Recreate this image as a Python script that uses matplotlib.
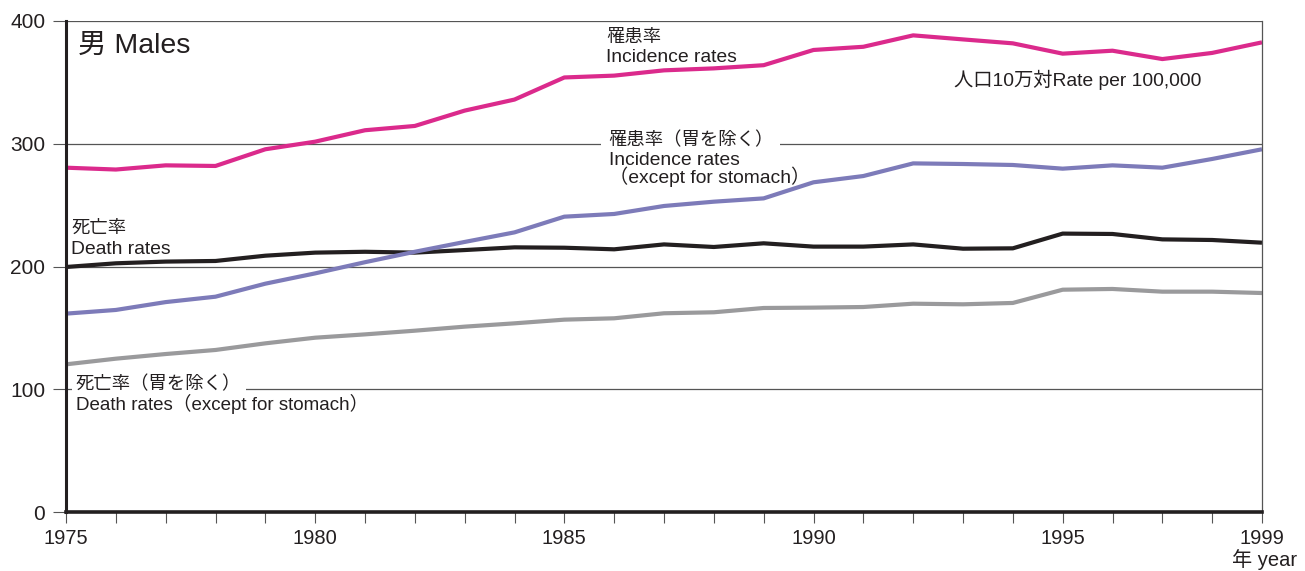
import matplotlib
matplotlib.use("Agg")
import matplotlib.pyplot as plt

plt.rcParams['font.family'] = ['Liberation Sans', 'Noto Sans CJK JP', 'DejaVu Sans']

years = list(range(1975, 2000))
incidence = [280.5, 279, 282.4, 281.9, 295.5, 301.7, 311, 314.5, 327, 336,
             354, 355.5, 359.8, 361.4, 364, 376.4, 379, 388.3, 385, 381.8,
             373.4, 375.8, 369, 374, 382.6]
incidence_ex = [161.6, 164.6, 171, 175.4, 186, 194.4, 203.5, 212, 220, 227.8,
                240.6, 242.8, 249.3, 252.8, 255.5, 268.6, 273.7, 284, 283.5, 282.7,
                279.7, 282.4, 280.5, 287.6, 295.5]
death = [199.6, 202.6, 204, 204.5, 208.8, 211.3, 212, 211.3, 213.4, 215.6,
         215.3, 214, 218, 215.9, 218.9, 216.2, 216.2, 218, 214.5, 214.8,
         226.8, 226.5, 222.1, 221.6, 219.4]
death_ex = [120.3, 124.9, 128.7, 132, 137.4, 142, 144.7, 147.7, 151, 153.7,
            156.7, 157.8, 161.9, 162.7, 166.2, 166.5, 167, 169.7, 169.2, 170.3,
            181.1, 181.7, 179.5, 179.5, 178.4]
yticks = [0, 100, 200, 300, 400]
xlabels = [1975, 1980, 1985, 1990, 1995, 1999]

fig = plt.figure(figsize=(13.05, 5.71), dpi=100)
ax = fig.add_axes([66/1305, 59/571, (1262-66)/1305, (512-21)/571])
ax.set_xlim(1975, 1999)
ax.set_ylim(0, 400)

for v in [100, 200, 300, 400]:
    ax.axhline(v, color='#555555', lw=0.9, zorder=1)

ax.plot(years, death_ex, color='#9a9a9c', lw=3, zorder=3, solid_capstyle='butt')
ax.plot(years, death, color='#231f20', lw=3, zorder=3, solid_capstyle='butt')
ax.plot(years, incidence_ex, color='#7d7bb9', lw=3, zorder=3, solid_capstyle='butt')
ax.plot(years, incidence, color='#db2a8c', lw=3, zorder=3, solid_capstyle='butt')

ax.spines['left'].set_linewidth(2.2)
ax.spines['left'].set_color('#231f20')
ax.spines['bottom'].set_linewidth(2.6)
ax.spines['bottom'].set_color('#231f20')
ax.spines['right'].set_linewidth(0.9)
ax.spines['right'].set_color('#555555')
ax.spines['top'].set_visible(False)
for s in ['left', 'bottom', 'right']:
    ax.spines[s].set_zorder(4)

ax.set_yticks(yticks)
ax.set_yticklabels([str(v) for v in yticks], fontsize=15, color='#231f20')
ax.set_xticks(years)
ax.set_xticklabels([str(y) if y in xlabels else '' for y in years], fontsize=14.5, color='#231f20')
ax.tick_params(axis='y', length=9.4, width=0.8, color='#555555', pad=5.5)
ax.tick_params(axis='x', length=8, width=0.8, color='#555555', pad=4)

def yr(px):
    return 1975 + (px - 66) / (1196 / 24)

def val(py):
    return (512 - py) / 1.2275

fs = 13.9
fj = 13.2
c = '#231f20'
ax.text(yr(78), val(53), '男 Males', fontsize=20.5, color=c, va='baseline', ha='left', zorder=5)
ax.text(yr(606), val(41.7), '罹患率', fontsize=fj, color=c, va='baseline', ha='left', zorder=5)
ax.text(yr(606), val(62.3), 'Incidence rates', fontsize=fs, color=c, va='baseline', ha='left', zorder=5)
ax.text(yr(954), val(86), '人口10万対Rate per 100,000', fontsize=fs, color=c, va='baseline', ha='left', zorder=5)
ax.text(yr(608), val(145), '罹患率（胃を除く）', fontsize=fj, color=c, va='baseline', ha='left', zorder=5,
        bbox=dict(facecolor='white', edgecolor='none', pad=5))
ax.text(yr(609), val(165), 'Incidence rates', fontsize=fs, color=c, va='baseline', ha='left', zorder=5)
ax.text(yr(609), val(183), '（except for stomach）', fontsize=fs, color=c, va='baseline', ha='left', zorder=5)
ax.text(yr(71), val(233), '死亡率', fontsize=fj, color=c, va='baseline', ha='left', zorder=5)
ax.text(yr(71), val(254), 'Death rates', fontsize=fs, color=c, va='baseline', ha='left', zorder=5)
ax.text(yr(76), val(389), '死亡率（胃を除く）', fontsize=fj, color=c, va='baseline', ha='left', zorder=5,
        bbox=dict(facecolor='white', edgecolor='none', pad=3))
ax.text(yr(76), val(410), 'Death rates（except for stomach）', fontsize=13.5, color=c, va='baseline', ha='left', zorder=5)

fig.text(1297/1305, 1/571, '年 year', fontsize=14.5, color=c, ha='right', va='bottom')

fig.savefig('out.png', dpi=100)
